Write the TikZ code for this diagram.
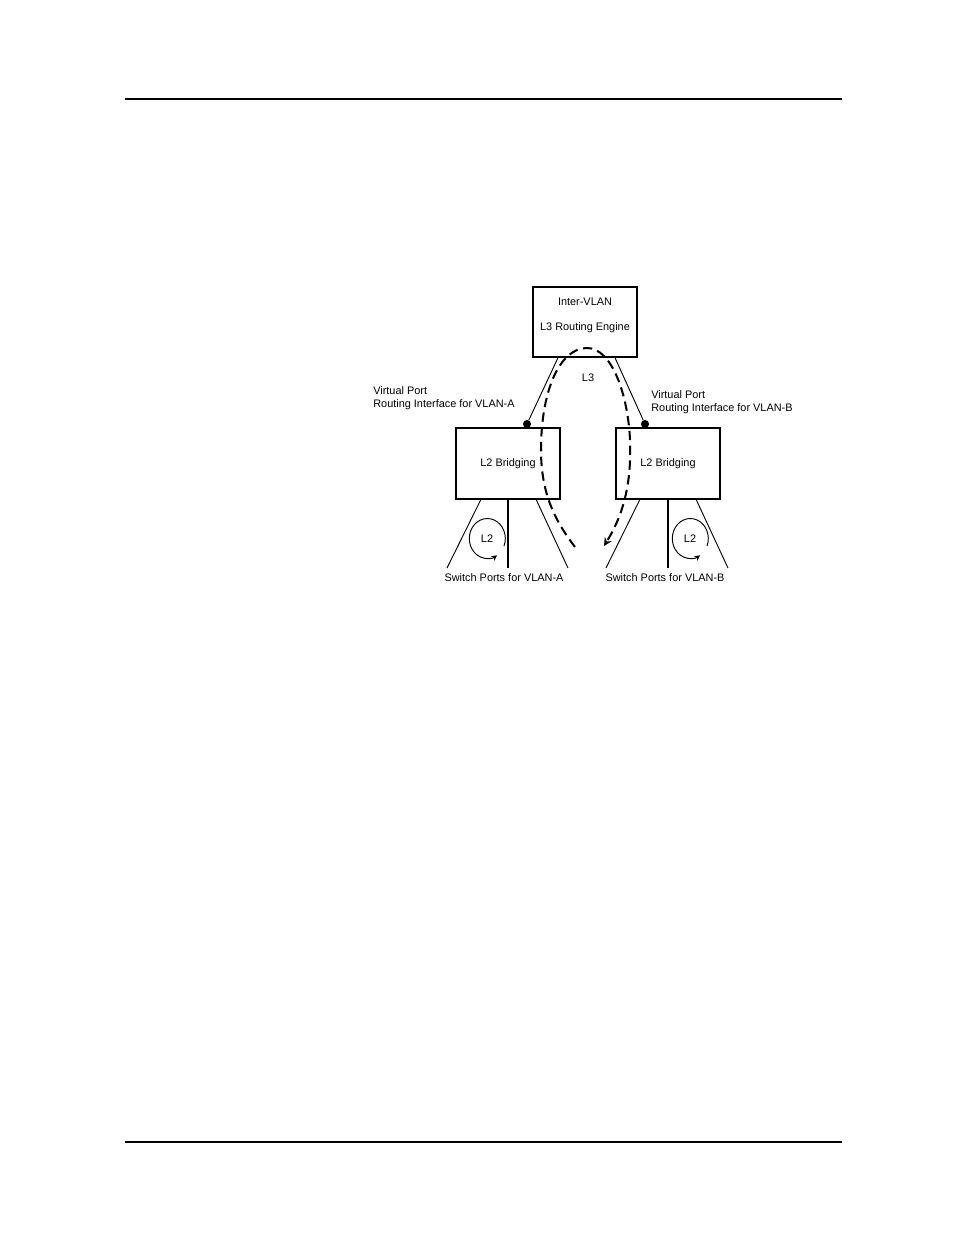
\documentclass[tikz,border=0pt]{standalone}
\usepackage{fontspec}
\setmainfont{Liberation Sans}
\usepackage{tikz}
\usetikzlibrary{arrows,calc,positioning}
\tikzstyle{box} = [
    draw,
    rectangle,
    line width=1.6pt,
    inner sep=0pt,
    minimum height=45.5pt,
    font=\fontsize{7}{8}\selectfont
]
\tikzstyle{tag} = [
    inner sep=0pt,
    font=\fontsize{7}{8}\selectfont
]

\begin{document}
\begin{tikzpicture}[
                x=0.6415pt, y=-0.6415pt,
                engine/.style={
                    box,
                    minimum width=66.7pt,
                    minimum height=44.9pt
                },
                bridge/.style={
                    box,
                    minimum width=67pt
                },
                vport/.style={
                    circle, fill,
                    inner sep=0pt,
                    minimum size=5.2pt
                },
                link/.style={line width=0.6pt},
                trunk/.style={line width=1.2pt},
                route/.style={
                    line width=1.3pt,
                    dash pattern=on 6pt off 3.5pt,
                    -stealth
                },
                loop/.style={line width=0.6pt, -stealth}
            ]
                \useasboundingbox (0,0) rectangle (954,1235);
                % page rules
                \draw[line width=0.7pt] (125,99) -- (842,99);
                \draw[line width=0.7pt] (125,1142) -- (842,1142);
                % boxes
                \node[engine] (E) at (585,322) {};
                \node[tag] (E1) at (585,302) {Inter-VLAN};
                \node[tag] (E2) at (585,328) {L3 Routing Engine};
                \node[bridge] (A) at (508,463.5) {L2 Bridging};
                \node[bridge] (B) at (668,463.5) {L2 Bridging};
                % virtual ports
                \node[vport] (PA) at (527,424) {};
                \node[vport] (PB) at (645,424) {};
                \draw[link] ($(E.south west)+(26,0)$) -- (PA);
                \draw[link] ($(E.south east)+(-23,0)$) -- (PB);
                \node[tag, anchor=west, align=left] (LA) at (373,398) {Virtual Port\\Routing Interface for VLAN-A};
                \node[tag, anchor=west, align=left] (LB) at (651,402) {Virtual Port\\Routing Interface for VLAN-B};
                \node[tag] (L3) at (588,378) {L3};
                % switch ports
                \coordinate (A1) at (447,568);
                \coordinate (A2) at (508,568);
                \coordinate (A3) at (568,568);
                \coordinate (B1) at (606,568);
                \coordinate (B2) at (668,568);
                \coordinate (B3) at (728,568);
                \draw[link] ($(A.south west)+(26,0)$) -- (A1);
                \draw[trunk] (A.south) -- (A2);
                \draw[link] ($(A.south east)+(-25,0)$) -- (A3);
                \draw[link] ($(B.south west)+(25,0)$) -- (B1);
                \draw[trunk] (B.south) -- (B2);
                \draw[link] ($(B.south east)+(-25,0)$) -- (B3);
                \node[tag] (SA) at (504,578) {Switch Ports for VLAN-A};
                \node[tag] (SB) at (665,578) {Switch Ports for VLAN-B};
                % L2 loops
                \node[tag] (QA) at (487,539) {L2};
                \node[tag] (QB) at (690,539) {L2};
                \draw[loop] ($(QA)+(17,7)$) arc[start angle=22, end angle=-303, x radius=18, y radius=20];
                \draw[loop] ($(QB)+(17,7)$) arc[start angle=22, end angle=-303, x radius=18, y radius=20];
                % L3 route
                \coordinate (RA) at (575,547);
                \coordinate (RT) at (587,348);
                \coordinate (RB) at (604,546);
                \draw[route] (RA) .. controls (556,522) and (541,495) .. (541,450)
                    .. controls (541,390) and (560,348) .. (RT)
                    .. controls (612,348) and (628,395) .. (630,440)
                    .. controls (632,490) and (620,520) .. (RB);
            \end{tikzpicture}
\end{document}
